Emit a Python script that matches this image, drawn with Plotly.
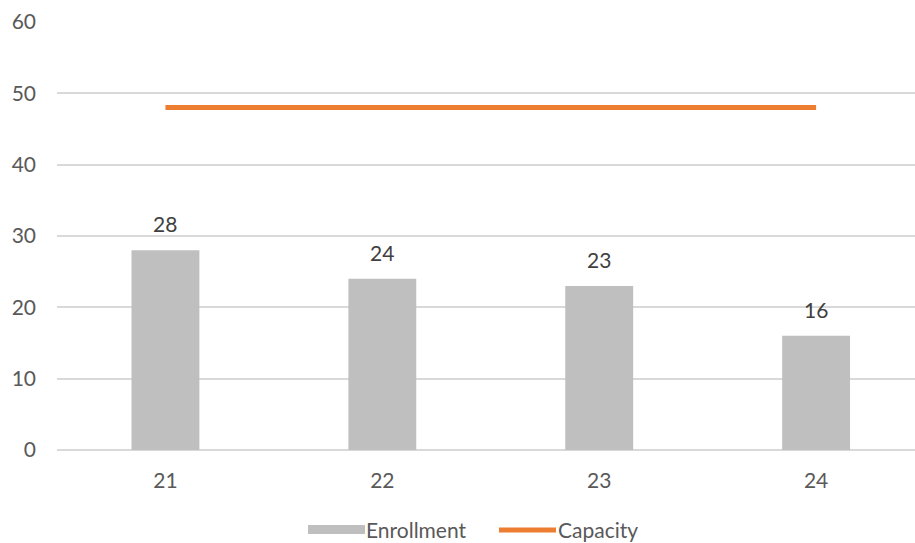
import plotly.graph_objects as go

# Enrollment by cohort against a fixed capacity
categories = ["21", "22", "23", "24"]
enrollment = [28, 24, 23, 16]
capacity = [48, 48, 48, 48]
y_ticks = [0, 10, 20, 30, 40, 50, 60]

FONT = "Lato"
BAR_COLOR = "#BFBFBF"
LINE_COLOR = "#ED7D31"
TEXT_COLOR = "#595959"

x_pos = list(range(len(categories)))

fig = go.Figure()
fig.add_trace(go.Bar(
    x=x_pos, y=enrollment, name="Enrollment",
    marker=dict(color=BAR_COLOR, line=dict(width=0)),
    width=0.313, showlegend=False,
))
fig.add_trace(go.Scatter(
    x=x_pos, y=capacity, name="Capacity", mode="lines",
    line=dict(color=LINE_COLOR, width=5), showlegend=False,
))

# value labels above the bars
for xi, v in zip(x_pos, enrollment):
    fig.add_annotation(x=xi, y=v, text=str(v), showarrow=False,
                       yanchor="bottom", yshift=12,
                       font=dict(family=FONT, size=21, color="#404040"))

# legend drawn in pixel-like paper coordinates
L, R, T, B = 57, 915, 22, 450
def px(xp):
    return (xp - L) / (R - L)
def py(yp):
    return (B - yp) / (B - T)

fig.add_shape(type="rect", xref="paper", yref="paper",
              x0=px(308), x1=px(365), y0=py(534), y1=py(525),
              fillcolor=BAR_COLOR, line=dict(width=0))
fig.add_annotation(xref="paper", yref="paper", x=px(365), y=py(529),
                   text="Enrollment", showarrow=False,
                   xanchor="left", yanchor="middle", borderpad=0,
                   font=dict(family=FONT, size=21, color=TEXT_COLOR))
fig.add_shape(type="line", xref="paper", yref="paper",
              x0=px(499), x1=px(556), y0=py(530), y1=py(530),
              line=dict(color=LINE_COLOR, width=5))
fig.add_annotation(xref="paper", yref="paper", x=px(557), y=py(529),
                   text="Capacity", showarrow=False,
                   xanchor="left", yanchor="middle", borderpad=0,
                   font=dict(family=FONT, size=21, color=TEXT_COLOR))

fig.update_layout(
    width=915, height=543,
    margin=dict(l=L, r=915 - R, t=T, b=543 - B),
    paper_bgcolor="white", plot_bgcolor="white",
    font=dict(family=FONT, size=21, color=TEXT_COLOR),
    xaxis=dict(
        range=[-0.5, 3.456], tickmode="array", tickvals=x_pos,
        ticktext=categories, showgrid=False, zeroline=False,
        showline=False, ticks="", ticklabelstandoff=16,
    ),
    yaxis=dict(
        range=[0, 60], tickmode="array", tickvals=y_ticks,
        showgrid=True, gridcolor="#D9D9D9", gridwidth=1.5,
        zeroline=True, zerolinecolor="#D9D9D9", zerolinewidth=1.5,
        showline=False, ticks="", ticklabelstandoff=20,
    ),
)

fig.write_html("out.html")
